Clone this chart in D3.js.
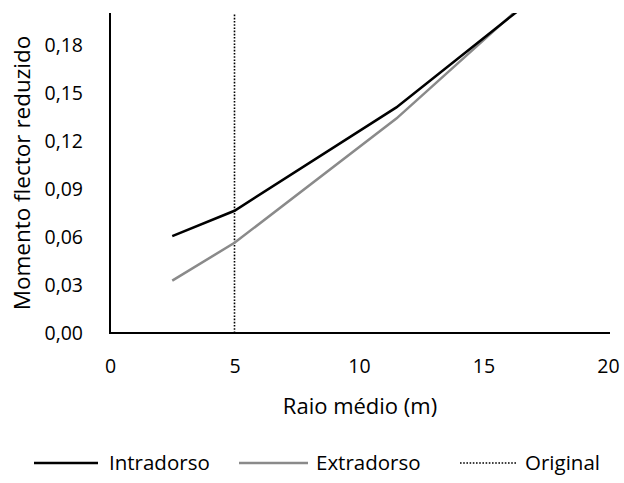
<!DOCTYPE html>
<html>
<head>
<meta charset="utf-8">
<script src="https://cdn.jsdelivr.net/npm/d3@7"></script>
<style>
  body { margin: 0; background: #fff; }
  svg { display: block; font-family: "Open Sans", sans-serif; }
</style>
</head>
<body>
<svg id="chart" width="624" height="483"></svg>
<script>
// Mean radius (m) at which the reduced bending moment was computed
const radius = [2.5, 5, 11.5, 20];
// Reduced bending moment, inner face (intradorso)
const intradorso = [0.0606, 0.0764, 0.141, 0.246];
// Reduced bending moment, outer face (extradorso)
const extradorso = [0.0327, 0.0564, 0.134, 0.253];
// Original radius of the structure
const originalRadius = 5;

const xTicks = [0, 5, 10, 15, 20];
const yTicks = [0, 0.03, 0.06, 0.09, 0.12, 0.15, 0.18];

const FONT = "'Open Sans', sans-serif";
const svg = d3.select("#chart");

const x = d3.scaleLinear().domain([0, 20]).range([110, 608]);
const y = d3.scaleLinear().domain([0, 0.2]).range([333, 13]);

const fmt = v => v.toFixed(2).replace(".", ",");

svg.append("defs").append("clipPath").attr("id", "plot")
  .append("rect")
  .attr("x", x(0)).attr("y", y(0.2))
  .attr("width", x(20) - x(0)).attr("height", y(0) - y(0.2));

// Y axis labels
const yAxis = svg.append("g")
  .attr("transform", `translate(${x(0)},0)`)
  .call(d3.axisLeft(y).tickValues(yTicks).tickFormat(fmt).tickSize(0).tickPadding(27));
yAxis.select(".domain").remove();
yAxis.selectAll("text").attr("font-size", 19.5).attr("fill", "#000").style("font-family", FONT);

// X axis labels
const xAxis = svg.append("g")
  .attr("transform", `translate(0,${y(0)})`)
  .call(d3.axisBottom(x).tickValues(xTicks).tickFormat(d3.format("d")).tickSize(0));
xAxis.select(".domain").remove();
xAxis.selectAll("text").attr("font-size", 19.5).attr("fill", "#000")
  .attr("y", 40).attr("dy", null).style("font-family", FONT);

// Axis lines
svg.append("line")
  .attr("x1", x(0)).attr("x2", x(0)).attr("y1", y(0.2)).attr("y2", y(0) + 1)
  .attr("stroke", "#000").attr("stroke-width", 2);
svg.append("line")
  .attr("x1", x(0) - 1).attr("x2", x(20) + 2).attr("y1", y(0)).attr("y2", y(0))
  .attr("stroke", "#000").attr("stroke-width", 2);

const plot = svg.append("g").attr("clip-path", "url(#plot)");

// Original radius marker
plot.append("line")
  .attr("x1", x(originalRadius)).attr("x2", x(originalRadius))
  .attr("y1", y(0)).attr("y2", y(0.2))
  .attr("stroke", "#000").attr("stroke-width", 1.6)
  .attr("stroke-dasharray", "1.6,1.6");

const line = d3.line().x(d => x(d[0])).y(d => y(d[1]));

plot.append("path")
  .datum(radius.map((r, i) => [r, extradorso[i]]))
  .attr("d", line).attr("fill", "none")
  .attr("stroke", "#8a8a8a").attr("stroke-width", 2.5);

plot.append("path")
  .datum(radius.map((r, i) => [r, intradorso[i]]))
  .attr("d", line).attr("fill", "none")
  .attr("stroke", "#000").attr("stroke-width", 2.5);

// Axis titles
svg.append("text")
  .attr("x", 360).attr("y", 414)
  .attr("text-anchor", "middle").attr("font-size", 22)
  .text("Raio médio (m)");

svg.append("text")
  .attr("transform", `translate(30,${(y(0) + y(0.2)) / 2}) rotate(-90)`)
  .attr("text-anchor", "middle").attr("font-size", 22.5)
  .text("Momento flector reduzido");

// Legend
const legend = [
  { label: "Intradorso", color: "#000", dash: null, x1: 34, x2: 98, tx: 109 },
  { label: "Extradorso", color: "#8a8a8a", dash: null, x1: 239, x2: 308, tx: 316 },
  { label: "Original", color: "#000", dash: "1.6,1.6", x1: 460, x2: 516, tx: 525 }
];
const lg = svg.append("g");
legend.forEach(d => {
  lg.append("line")
    .attr("x1", d.x1).attr("x2", d.x2).attr("y1", 463).attr("y2", 463)
    .attr("stroke", d.color).attr("stroke-width", d.dash ? 1.6 : 2.5)
    .attr("stroke-dasharray", d.dash);
  lg.append("text")
    .attr("x", d.tx).attr("y", 470).attr("font-size", 20.5)
    .text(d.label);
});
</script>
</body>
</html>
